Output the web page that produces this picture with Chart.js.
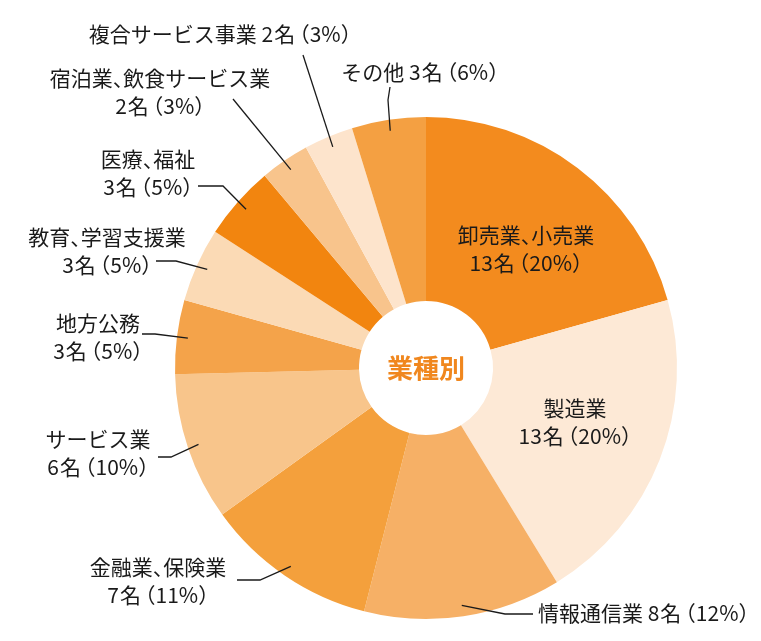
<!DOCTYPE html>
<html>
<head>
<meta charset="utf-8">
<script src="https://cdn.jsdelivr.net/npm/chart.js@4.4.0/dist/chart.umd.min.js"></script>
<style>
  html, body { margin: 0; padding: 0; background: #fff; }
  canvas { display: block; }
</style>
</head>
<body>
<canvas id="pieChart" width="761" height="641"></canvas>
<script>
// --- data ---
const categories = ['卸売業、小売業', '製造業', '情報通信業', '金融業、保険業', 'サービス業', '地方公務',
                    '教育、学習支援業', '医療、福祉', '宿泊業、飲食サービス業', '複合サービス事業', 'その他'];
const counts   = [13, 13, 8, 7, 6, 3, 3, 3, 2, 2, 3];
const percents = [20, 20, 12, 11, 10, 5, 5, 5, 3, 3, 6];
const centerTitle = '業種別';

const colors = ['#f38b1e', '#fde9d6', '#f6b066', '#f4a03c', '#f8c58b', '#f4a34a',
                '#fbdab5', '#f2850f', '#f8c48c', '#fde4cc', '#f4a042'];

// label placement (mode: two lines or one line), leader elbows
const labelLayout = [
  { mode: 'two', x: 526, y: 235 },
  { mode: 'two', x: 575, y: 408 },
  { mode: 'one', x: 538, y: 613, align: 'left',   leader: [[505, 614], [533, 614]] },
  { mode: 'two', x: 158, y: 567, leader: [[260, 580], [237, 580]] },
  { mode: 'two', x: 98,  y: 439, leader: [[171, 457], [158, 457]] },
  { mode: 'two', x: 98,  y: 323, leader: [[155, 334], [142, 334]] },
  { mode: 'two', x: 107, y: 237, leader: [[176, 261], [156, 261]] },
  { mode: 'two', x: 148, y: 159, leader: [[223, 186], [198, 186]] },
  { mode: 'two', x: 160, y: 78,  leader: [[233, 99]] },
  { mode: 'one', x: 220, y: 34,  leader: [[303, 55]] },
  { mode: 'one', x: 420, y: 72,  leader: [[388, 100], [390, 87]] },
];

const FONT_SIZE = 21;
const LINE_GAP = 28;
const NARROW = '（）、';

// proportional spacing for full-width brackets / comma
function charWidth(ctx, ch) {
  if (ch === '（') return FONT_SIZE * 0.5 + 4;
  if (ch === '名') return ctx.measureText(ch).width + 1;
  return NARROW.includes(ch) ? FONT_SIZE * 0.5 : ctx.measureText(ch).width;
}
function textWidth(ctx, s) {
  let w = 0;
  for (const ch of s) w += charWidth(ctx, ch);
  return w;
}
function drawJP(ctx, s, x, y, align) {
  let cx = align === 'left' ? x : x - textWidth(ctx, s) / 2;
  ctx.textAlign = 'left';
  for (const ch of s) {
    let dx = 0;
    if (ch === '（') dx = -FONT_SIZE * 0.5 + 4;
    if (ch === '名') dx = 1;
    ctx.fillText(ch, cx + dx, y);
    cx += charWidth(ctx, ch);
  }
}

const labelPlugin = {
  id: 'labels',
  afterDatasetsDraw(chart) {
    const ctx = chart.ctx;
    const meta = chart.getDatasetMeta(0);
    ctx.save();

    // center title
    const a0 = meta.data[0];
    ctx.fillStyle = '#f0871e';
    ctx.font = 'bold 26px "Noto Sans CJK JP"';
    ctx.textAlign = 'center';
    ctx.textBaseline = 'middle';
    ctx.fillText(centerTitle, a0.x, a0.y);

    ctx.font = FONT_SIZE + 'px "Noto Sans CJK JP"';
    ctx.fillStyle = '#1a1a1a';
    ctx.strokeStyle = '#1a1a1a';
    ctx.lineWidth = 1.3;

    meta.data.forEach((arc, i) => {
      const lay = labelLayout[i];
      const countText = counts[i] + '名（' + percents[i] + '%）';
      if (lay.mode === 'two') {
        drawJP(ctx, categories[i], lay.x, lay.y, 'center');
        drawJP(ctx, countText, lay.x, lay.y + LINE_GAP, 'center');
      } else {
        drawJP(ctx, categories[i] + ' ' + countText, lay.x, lay.y, lay.align || 'center');
      }
      if (lay.leader) {
        const p = arc.getProps(['x', 'y', 'startAngle', 'endAngle', 'outerRadius'], true);
        const mid = (p.startAngle + p.endAngle) / 2;
        const r = p.outerRadius - 11;
        ctx.beginPath();
        ctx.moveTo(p.x + Math.cos(mid) * r, p.y + Math.sin(mid) * r);
        lay.leader.forEach(pt => ctx.lineTo(pt[0], pt[1]));
        ctx.stroke();
      }
    });
    ctx.restore();
  }
};

new Chart(document.getElementById('pieChart'), {
  type: 'doughnut',
  data: {
    labels: categories,
    datasets: [{
      data: counts,
      backgroundColor: colors,
      borderWidth: 0,
    }]
  },
  options: {
    responsive: false,
    animation: false,
    cutout: 67,
    layout: { padding: { left: 175, right: 84, top: 117, bottom: 22 } },
    plugins: {
      legend: { display: false },
      tooltip: { enabled: false }
    }
  },
  plugins: [labelPlugin]
});
</script>
</body>
</html>
